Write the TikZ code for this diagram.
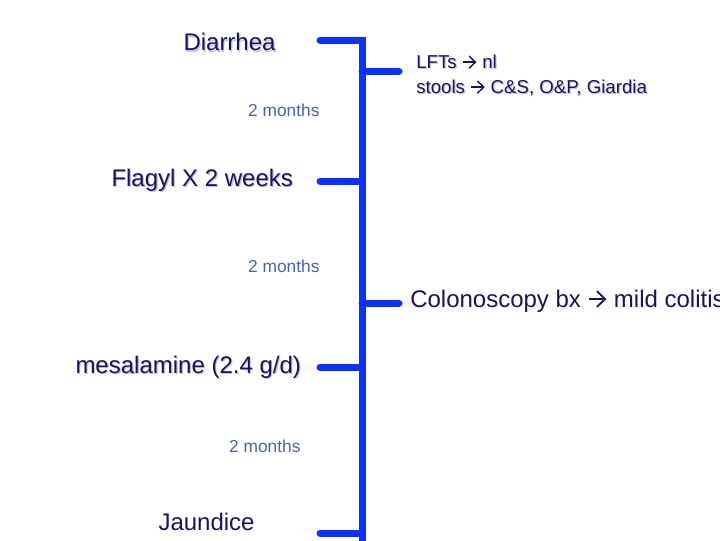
\documentclass[tikz,border=0pt]{standalone}
\usepackage{fontspec}
\setmainfont{Liberation Sans}
\usetikzlibrary{arrows.meta}
\definecolor{spineblue}{RGB}{10,50,255}
\definecolor{textnavy}{RGB}{20,20,100}
\definecolor{gapblue}{RGB}{70,100,180}
\definecolor{shadowgrey}{RGB}{195,195,218}
\newcommand{\shadowed}[1]{\leavevmode\rlap{\kern0.9pt\raisebox{-0.9pt}{\color{shadowgrey}#1}}#1}
\newcommand{\toarrow}{\tikz[baseline=0pt]\draw[line width=0.075em, -{Straight Barb[length=0.34em, width=0.66em, line width=0.075em]}] (0,0.34em) -- (0.74em,0.34em);}
\tikzset{every picture/.style={line width=0.75pt}}
\tikzset{
  tick/.style={color=spineblue, line width=5.25pt, line cap=round, line join=miter},
  event/.style={anchor=west, inner sep=0.75pt, color=textnavy, font=\fontsize{18}{21}\selectfont},
  finding/.style={anchor=west, inner sep=0.75pt, color=textnavy, align=left, font=\fontsize{14}{18.75}\selectfont},
  gap/.style={anchor=east, inner sep=0.75pt, color=gapblue, font=\fontsize{13}{15}\selectfont}
}

\begin{document}
\begin{tikzpicture}[x=0.75pt,y=0.75pt,yscale=-1,xscale=1]
\useasboundingbox (0,0) rectangle (720,540);

%Coordinates on the spine
\coordinate (sTop) at (362,40);
\coordinate (sEnd) at (362,548);
\coordinate (sLft) at (362,71);
\coordinate (sFla) at (362,181);
\coordinate (sCol) at (362,303);
\coordinate (sMes) at (362,367);
\coordinate (sJau) at (362,533);
%Free ends of the ticks
\coordinate (tDia) at (320,40);
\coordinate (tLft) at (399,71);
\coordinate (tFla) at (320,181);
\coordinate (tCol) at (399,303);
\coordinate (tMes) at (320,367);
\coordinate (tJau) at (320,533);

%Straight Lines
\draw [tick] (tDia) -- (sTop) -- (sEnd);
\draw [tick] (sLft) -- (tLft);
\draw [tick] (sFla) -- (tFla);
\draw [tick] (sCol) -- (tCol);
\draw [tick] (sMes) -- (tMes);
\draw [tick] (sJau) -- (tJau);

% Text Node
\node (diarrhea) at (182,43) [event] {\shadowed{Diarrhea}};
% Text Node
\node (gapA) at (321,110) [gap] {2 months};
% Text Node
\node (lfts) at (415,76) [finding] {\shadowed{LFTs} \toarrow{} \shadowed{nl}\\\shadowed{stools} \toarrow{} \shadowed{C\&S, O\&P, Giardia}};
% Text Node
\node (flagyl) at (110,181) [event] {\shadowed{Flagyl X 2 weeks}};
% Text Node
\node (gapB) at (321,266) [gap] {2 months};
% Text Node
\node (colon) at (409,301) [event] {Colonoscopy bx \toarrow{} mild colitis};
% Text Node
\node (mesal) at (74,368) [event] {\shadowed{mesalamine (2.4 g/d)}};
% Text Node
\node (gapC) at (302,446) [gap] {2 months};
% Text Node
\node (jaundice) at (157,522) [event] {Jaundice};

\end{tikzpicture}
\end{document}
